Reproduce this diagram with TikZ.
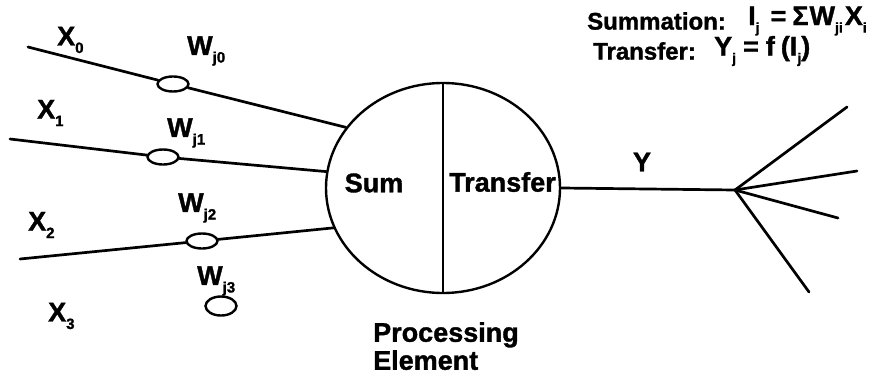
\documentclass[tikz,border=0pt]{standalone}
\usepackage{fontspec}
\setmainfont{Liberation Sans}
\newfontfamily\hv{Liberation Sans Bold}[FakeBold=1.3]
\usetikzlibrary{shapes.geometric}
\newcommand{\sbs}[1]{\raisebox{-0.28em}{\fontsize{15}{15}\selectfont #1}}
\newcommand{\tsb}[1]{\raisebox{-0.28em}{\fontsize{14}{14}\selectfont #1}}
\tikzset{
  wire/.style={line width=2.7pt, line cap=round},
  weight/.style={ellipse, draw, line width=2.4pt, fill=white, minimum width=31pt, minimum height=15pt, inner sep=0pt},
  lab/.style={font=\hv\fontsize{27}{28}\selectfont, inner sep=0pt, anchor=west},
  ttl/.style={font=\hv\fontsize{24}{26}\selectfont, inner sep=0pt, anchor=west},
  frm/.style={font=\hv\fontsize{27}{28}\selectfont, inner sep=0pt, anchor=west},
}
\begin{document}
\begin{tikzpicture}[x=1pt,y=-1pt]
\useasboundingbox (0,0) rectangle (891,377);
% processing element
\node[ellipse, draw, line width=2.4pt, minimum width=234pt, minimum height=210pt, inner sep=0pt] (pe) at (443,188) {};
\draw[line width=2.4pt] (pe.north) -- (pe.south);
\node[lab, anchor=center] (sum) at (374,183) {Sum};
\node[lab] (tr) at (449,182) {Transfer};
\node[lab, align=left, anchor=north west] (elem) at (373,322) {Processing\\Element};
% inputs
\coordinate (s0) at (28,47);
\coordinate (s1) at (10,139);
\coordinate (s2) at (20,259);
\node[weight] (w0) at (173,84) {};
\node[weight] (w1) at (163,157) {};
\node[weight] (w2) at (202,241) {};
\node[weight, minimum height=19pt] (w3) at (221,306) {};
\draw[wire] (s0) -- (w0) -- (pe.148.5);
\draw[wire] (s1) -- (w1) -- (pe.172.8);
\draw[wire] (s2) -- (w2) -- (pe.200.9);
\node[lab] (x0) at (57,40) {X\sbs{0}};
\node[lab] (x1) at (37,113) {X\sbs{1}};
\node[lab] (x2) at (28,225) {X\sbs{2}};
\node[lab] (x3) at (48,316) {X\sbs{3}};
\node[lab] (lw0) at (187,51) {W\sbs{j0}};
\node[lab] (lw1) at (167,133) {W\sbs{j1}};
\node[lab] (lw2) at (178,208) {W\sbs{j2}};
\node[lab] (lw3) at (197,281) {W\sbs{j3}};
% output
\coordinate (j) at (735,190);
\coordinate (o1) at (847,107);
\coordinate (o2) at (857,171);
\coordinate (o3) at (838,218);
\coordinate (o4) at (809,292);
\draw[wire] (pe.east) -- (j);
\draw[wire] (j) -- (o1);
\draw[wire] (j) -- (o2);
\draw[wire] (j) -- (o3);
\draw[wire] (j) -- (o4);
\node[lab, anchor=center] (y) at (642,162) {Y};
% title
\node[ttl] (t1) at (587,21) {Summation:};
\node[frm] (f1) at (748,21) {I\tsb{j}\hspace{11pt}=\hspace{6pt}Σ\hspace{1pt}W\tsb{ji}\hspace{2pt}X\tsb{i}};
\node[ttl] (t2) at (593,51) {Transfer:};
\node[frm] (f2) at (714,51) {Y\tsb{j}\hspace{7pt}=\hspace{7pt}f\hspace{6pt}(I\tsb{j})};
\end{tikzpicture}
\end{document}
